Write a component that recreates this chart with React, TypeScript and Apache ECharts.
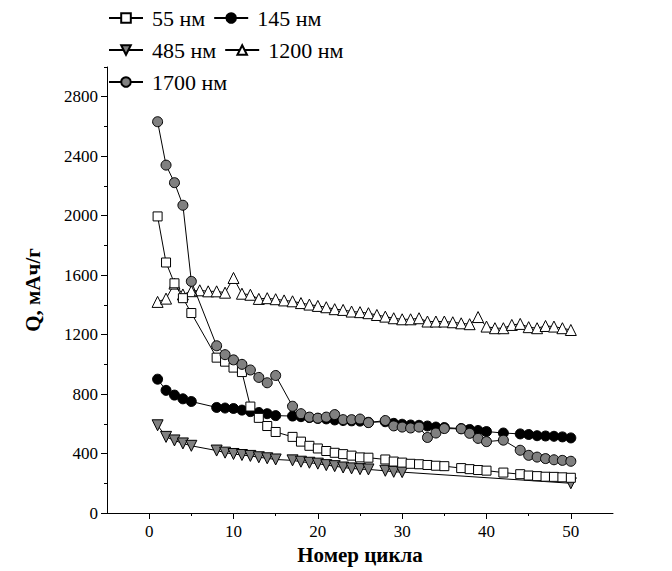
import React, { useEffect, useRef } from 'react';
import * as echarts from 'echarts';

// ---- data ----
const cycles55 = [1, 2, 3, 4, 5, 8, 9, 10, 11, 12, 13, 14, 15, 17, 18, 19, 20, 21, 22, 23, 24, 25, 26, 28, 29, 30, 31, 32, 33, 34, 35, 37, 38, 39, 40, 42, 44, 45, 46, 47, 48, 49, 50];
const q55 = [1995, 1685, 1545, 1445, 1345, 1045, 1018, 978, 948, 716, 640, 585, 545, 512, 480, 452, 434, 417, 405, 396, 386, 374, 372, 360, 346, 339, 331, 328, 323, 318, 315, 302, 295, 289, 285, 272, 261, 252, 248, 244, 243, 240, 237];

const cycles145 = [1, 2, 3, 4, 5, 8, 9, 10, 11, 12, 13, 14, 15, 17, 18, 19, 20, 21, 22, 23, 24, 25, 26, 28, 29, 30, 31, 32, 33, 34, 35, 37, 38, 39, 40, 42, 44, 45, 46, 47, 48, 49, 50];
const q145 = [900, 825, 793, 768, 750, 710, 706, 703, 692, 682, 676, 668, 655, 652, 648, 642, 636, 633, 626, 622, 620, 618, 610, 614, 603, 597, 592, 590, 585, 578, 575, 568, 562, 555, 548, 538, 532, 528, 520, 518, 516, 512, 505];

const cycles485 = [1, 2, 3, 4, 5, 8, 9, 10, 11, 12, 13, 14, 15, 17, 18, 19, 20, 21, 22, 23, 24, 25, 26, 28, 29, 30, 50];
const q485 = [590, 512, 488, 468, 452, 420, 406, 397, 390, 384, 375, 368, 360, 354, 345, 338, 332, 322, 315, 306, 300, 295, 293, 284, 277, 275, 200];

const cycles1200 = [1, 2, 3, 4, 5, 6, 7, 8, 9, 10, 11, 12, 13, 14, 15, 16, 17, 18, 19, 20, 21, 22, 23, 24, 25, 26, 27, 28, 29, 30, 31, 32, 33, 34, 35, 36, 37, 38, 39, 40, 41, 42, 43, 44, 45, 46, 47, 48, 49, 50];
const q1200 = [1420, 1442, 1543, 1470, 1492, 1498, 1491, 1491, 1482, 1581, 1475, 1468, 1440, 1445, 1438, 1430, 1424, 1412, 1402, 1393, 1384, 1371, 1366, 1355, 1351, 1344, 1332, 1321, 1310, 1303, 1303, 1310, 1288, 1288, 1288, 1283, 1276, 1270, 1318, 1254, 1243, 1243, 1265, 1272, 1250, 1243, 1258, 1254, 1243, 1231];

const cycles1700 = [1, 2, 3, 4, 5, 8, 9, 10, 11, 12, 13, 14, 15, 17, 18, 19, 20, 21, 22, 23, 24, 25, 26, 28, 29, 30, 31, 32, 33, 34, 35, 37, 38, 39, 40, 42, 44, 45, 46, 47, 48, 49, 50];
const q1700 = [2632, 2340, 2222, 2070, 1558, 1125, 1065, 1030, 1000, 962, 912, 876, 925, 718, 668, 645, 638, 645, 662, 628, 628, 632, 608, 622, 586, 578, 572, 578, 508, 538, 568, 566, 536, 502, 480, 490, 422, 388, 376, 366, 358, 354, 348];

const seriesNames = ['55 нм', '145 нм', '485 нм', '1200 нм', '1700 нм'];
const xMajor = [0, 10, 20, 30, 40, 50];
const xMinor = [5, 15, 25, 35, 45];
const yMajor = [0, 400, 800, 1200, 1600, 2000, 2400, 2800];
const yMinor = [200, 600, 1000, 1400, 1800, 2200, 2600, 3000];
const xTitle = 'Номер цикла';
const yTitle = 'Q, мАч/г';

const FONT = 'Liberation Serif';

export default function App() {
  const ref = useRef<HTMLDivElement>(null);
  useEffect(() => {
    if (!ref.current) return;
    const chart = echarts.init(ref.current, null, { renderer: 'svg' });
    const mk = (
      name: string,
      xs: number[],
      ys: number[],
      symbol: string,
      size: number,
      fill: string,
      rotate: number,
      z: number
    ) => ({
      name,
      type: 'line',
      data: xs.map((x, i) => [x, ys[i]]),
      symbol,
      symbolSize: size,
      symbolRotate: rotate,
      showAllSymbol: true,
      lineStyle: { color: '#000', width: 1 },
      itemStyle: { color: fill, borderColor: '#000', borderWidth: 1 },
      emphasis: { disabled: true },
      xAxisIndex: 0,
      yAxisIndex: 0,
      z,
    });
    const legendText = { fontFamily: FONT, fontSize: 22, color: '#000' };
    const legendBase = {
      orient: 'horizontal',
      left: 108,
      padding: 0,
      itemWidth: 34,
      itemHeight: 12,
      itemGap: 8,
      selectedMode: false,
      formatter: (n: string) => `{t|${n}}`,
      textStyle: { ...legendText, rich: { t: { ...legendText, padding: [0, 0, 0, 4] } } },
    };
    const tickText = { fontFamily: FONT, fontSize: 17, color: '#000' };
    const titleText = { fontFamily: FONT, fontSize: 21, fontWeight: 'bold', color: '#000' };
    const axisCommonLine = { lineStyle: { color: '#000', width: 1 } };
    const richLabel = (v: number) => `{t|${v}}`;
    chart.setOption({
      animation: false,
      backgroundColor: '#fff',
      textStyle: { fontFamily: FONT },
      grid: { left: 107, right: 59, top: 67, bottom: 58, containLabel: false },
      legend: [
        { ...legendBase, top: 7, data: [seriesNames[0], seriesNames[1]] },
        { ...legendBase, top: 39, data: [seriesNames[2], seriesNames[3]] },
        { ...legendBase, top: 71, data: [seriesNames[4]] },
      ],
      xAxis: [
        {
          type: 'value',
          min: -5,
          max: 55,
          position: 'bottom',
          axisLine: { onZero: false, ...axisCommonLine },
          axisTick: { customValues: xMajor, length: 6, ...axisCommonLine },
          axisLabel: { customValues: xMajor, formatter: richLabel, ...tickText, margin: 10, rich: { t: tickText } },
          splitLine: { show: false },
          name: `{t|${xTitle}}`,
          nameLocation: 'middle',
          nameGap: 30,
          nameTextStyle: { ...titleText, rich: { t: titleText } },
        },
        {
          type: 'value',
          min: -5,
          max: 55,
          position: 'bottom',
          axisLine: { show: false, onZero: false },
          axisTick: { customValues: xMinor, length: 3, ...axisCommonLine },
          axisLabel: { show: false },
          splitLine: { show: false },
        },
      ],
      yAxis: [
        {
          type: 'value',
          min: 0,
          max: 3000,
          position: 'left',
          axisLine: { show: true, onZero: false, ...axisCommonLine },
          axisTick: { customValues: yMajor, length: 6, ...axisCommonLine },
          axisLabel: { customValues: yMajor, formatter: richLabel, ...tickText, margin: 9, rich: { t: tickText } },
          splitLine: { show: false },
          name: `{t|${yTitle}}`,
          nameLocation: 'middle',
          nameGap: 64,
          nameTextStyle: { ...titleText, rich: { t: titleText } },
        },
        {
          type: 'value',
          min: 0,
          max: 3000,
          position: 'left',
          axisLine: { show: false, onZero: false },
          axisTick: { customValues: yMinor, length: 3, ...axisCommonLine },
          axisLabel: { show: false },
          splitLine: { show: false },
        },
      ],
      series: [
        mk(seriesNames[0], cycles55, q55, 'rect', 9, '#fff', 0, 3),
        mk(seriesNames[1], cycles145, q145, 'circle', 10, '#000', 0, 2),
        mk(seriesNames[2], cycles485, q485, 'triangle', 11, '#808080', 180, 2),
        mk(seriesNames[3], cycles1200, q1200, 'triangle', 11, '#fff', 0, 2),
        mk(seriesNames[4], cycles1700, q1700, 'circle', 10, '#808080', 0, 4),
      ],
    });
    return () => chart.dispose();
  }, []);
  return (
    <div
      ref={ref}
      style={{ position: 'fixed', left: 0, top: 0, width: 672, height: 571, background: '#fff' }}
    />
  );
}
